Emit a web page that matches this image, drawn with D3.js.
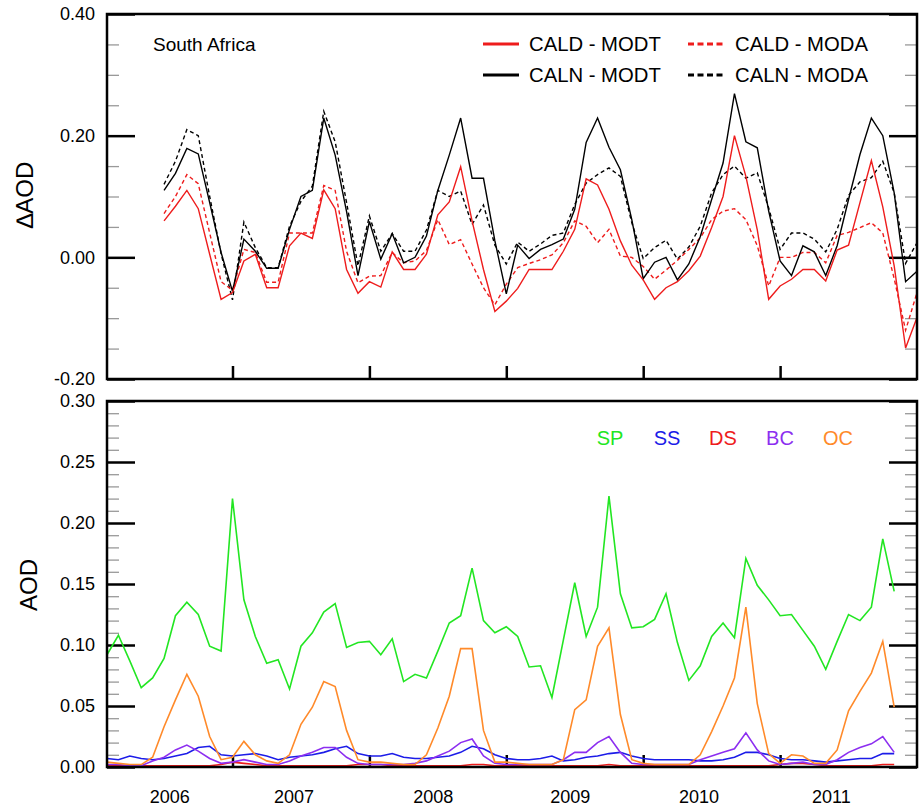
<!DOCTYPE html>
<html><head><meta charset="utf-8">
<script src="https://cdn.jsdelivr.net/npm/d3@7"></script>
<style>
body{margin:0;background:#fff}
svg{display:block}
text{font-family:"Liberation Sans",Arial,Helvetica,sans-serif;fill:#000}
</style>
</head><body>
<svg id="chart" width="923" height="807"></svg>
<script>
// ---------- DATA ----------
// month index 0 = first month of 2006 ; panel x axis spans months 0..71
const years = ["2006","2007","2008","2009","2010","2011"];
const yearLabelAt = [5.5, 16.4, 28.6, 40.6, 51.9, 63.5];   // month positions of year labels
const yearTicks = [11, 23, 35, 47, 59];

const N = null;
// top panel (ΔAOD), months 0..71 (no data before month 5)
const caldModt = [N,N,N,N,N,
 0.060,0.084,0.110,0.080,0.005,-0.069,-0.058,-0.006,0.005,-0.050,-0.050,0.019,0.040,0.031,0.111,0.080,
 -0.020,-0.059,-0.040,-0.049,0.009,-0.020,-0.020,0.005,0.070,0.091,0.149,0.060,-0.020,-0.089,-0.072,
 -0.051,-0.020,-0.020,-0.020,0.010,0.046,0.129,0.119,0.079,0.027,-0.013,-0.037,-0.069,-0.050,-0.040,
 -0.022,0.002,0.049,0.100,0.200,0.133,0.045,-0.069,-0.047,-0.036,-0.020,-0.020,-0.039,0.012,0.020,
 0.090,0.159,0.083,-0.014,-0.149,-0.099];
const calnModt = [N,N,N,N,N,
 0.110,0.138,0.179,0.170,0.090,0.008,-0.056,0.030,0.010,-0.018,-0.018,0.046,0.100,0.110,0.229,0.168,
 0.075,-0.030,0.059,-0.003,0.039,-0.009,0.000,0.035,0.110,0.168,0.229,0.130,0.130,0.027,-0.060,
 0.020,-0.002,0.013,0.021,0.030,0.079,0.189,0.229,0.181,0.144,0.062,-0.035,-0.008,0.000,-0.037,
 -0.011,0.034,0.095,0.155,0.269,0.190,0.180,0.076,-0.006,-0.030,0.019,0.009,-0.030,0.019,0.095,
 0.169,0.229,0.200,0.106,-0.040,-0.023];
const caldModa = [N,N,N,N,N,
 0.072,0.100,0.136,0.121,0.040,-0.040,-0.054,0.013,0.008,-0.041,-0.041,0.040,0.040,0.040,0.118,0.110,
 0.010,-0.042,-0.031,-0.030,0.008,-0.009,-0.006,0.011,0.062,0.021,0.029,-0.011,-0.050,-0.078,-0.044,
 -0.017,-0.010,-0.004,0.004,0.024,0.060,0.051,0.024,0.046,0.002,0.000,-0.015,-0.036,-0.021,-0.005,
 0.013,0.032,0.062,0.076,0.080,0.062,0.019,-0.047,0.000,0.000,0.008,0.008,-0.009,0.036,0.041,
 0.049,0.057,0.040,-0.035,-0.120,-0.058];
const calnModa = [N,N,N,N,N,
 0.120,0.158,0.210,0.200,0.100,0.006,-0.070,0.058,0.016,-0.017,-0.017,0.051,0.092,0.117,0.240,0.190,
 0.090,-0.014,0.068,0.010,0.039,0.010,0.010,0.045,0.110,0.100,0.109,0.054,0.086,0.020,-0.011,
 0.025,0.010,0.022,0.036,0.040,0.087,0.122,0.136,0.147,0.133,0.057,-0.002,0.016,0.028,-0.003,
 0.017,0.051,0.106,0.136,0.150,0.130,0.139,0.081,0.013,0.040,0.040,0.030,0.009,0.046,0.102,
 0.124,0.131,0.158,0.106,-0.010,0.024];

// bottom panel (AOD), months 0..69
const sp = [0.092,0.108,0.087,0.065,0.073,0.089,0.124,0.135,0.125,0.099,0.095,0.220,0.137,0.107,0.085,
 0.088,0.064,0.099,0.110,0.127,0.134,0.098,0.102,0.103,0.092,0.105,0.070,0.076,0.073,0.095,0.118,
 0.124,0.163,0.120,0.110,0.115,0.107,0.082,0.083,0.057,0.104,0.151,0.107,0.131,0.222,0.142,0.114,
 0.115,0.121,0.142,0.102,0.071,0.083,0.107,0.118,0.106,0.171,0.149,0.137,0.124,0.125,0.112,0.099,
 0.080,0.103,0.125,0.120,0.131,0.187,0.144];
const ss = [0.007,0.006,0.009,0.007,0.006,0.007,0.009,0.011,0.016,0.017,0.010,0.009,0.010,0.011,0.009,
 0.006,0.008,0.009,0.010,0.012,0.015,0.017,0.011,0.009,0.009,0.011,0.008,0.007,0.007,0.008,0.009,
 0.012,0.017,0.015,0.010,0.007,0.006,0.006,0.007,0.009,0.005,0.006,0.008,0.009,0.011,0.012,0.009,
 0.007,0.006,0.006,0.006,0.006,0.005,0.005,0.006,0.008,0.012,0.012,0.010,0.007,0.006,0.006,0.005,
 0.004,0.005,0.006,0.007,0.007,0.011,0.011];
const ds = [0.001,0.001,0.001,0.001,0.001,0.001,0.001,0.001,0.001,0.001,0.002,0.004,0.003,0.002,0.001,
 0.001,0.001,0.001,0.001,0.001,0.001,0.001,0.002,0.002,0.002,0.001,0.001,0.001,0.001,0.001,0.001,
 0.001,0.002,0.002,0.001,0.001,0.001,0.001,0.001,0.001,0.001,0.001,0.001,0.001,0.002,0.001,0.001,
 0.001,0.001,0.001,0.001,0.001,0.001,0.001,0.001,0.001,0.001,0.001,0.001,0.002,0.003,0.003,0.002,
 0.001,0.001,0.001,0.001,0.001,0.002,0.002];
const bc = [0.002,0.002,0.001,0.001,0.005,0.008,0.014,0.018,0.013,0.007,0.003,0.004,0.006,0.004,0.002,
 0.002,0.005,0.009,0.012,0.016,0.016,0.008,0.003,0.002,0.002,0.002,0.002,0.003,0.005,0.009,0.013,
 0.020,0.023,0.009,0.003,0.002,0.002,0.002,0.002,0.002,0.006,0.012,0.012,0.020,0.025,0.012,0.003,
 0.002,0.002,0.002,0.002,0.002,0.006,0.009,0.012,0.015,0.028,0.014,0.005,0.002,0.003,0.004,0.002,
 0.002,0.006,0.012,0.016,0.019,0.025,0.012];
const oc = [0.004,0.003,0.002,0.002,0.008,0.033,0.055,0.076,0.058,0.025,0.006,0.008,0.021,0.010,0.005,
 0.003,0.010,0.035,0.049,0.070,0.066,0.030,0.006,0.004,0.004,0.003,0.002,0.002,0.010,0.032,0.058,
 0.097,0.097,0.030,0.004,0.004,0.003,0.002,0.002,0.002,0.006,0.047,0.055,0.099,0.114,0.043,0.006,
 0.003,0.002,0.002,0.002,0.002,0.010,0.029,0.050,0.073,0.131,0.052,0.011,0.003,0.010,0.009,0.003,
 0.003,0.014,0.046,0.062,0.077,0.103,0.049];

const topTicks = [-0.2, 0, 0.2, 0.4];
const topMinor = [-0.15,-0.10,-0.05,0.05,0.10,0.15,0.25,0.30,0.35];
const botTicks = [0, 0.05, 0.10, 0.15, 0.20, 0.25, 0.30];
const botMinor = d3.range(1,30).filter(i => i % 5 !== 0).map(i => i/100);

// ---------- STYLE ----------
const RED = "#ee1c1c", BLACK = "#000";
const C = {SP:"#22e622", SS:"#1c1ce8", DS:"#ee1c1c", BC:"#8c2ef0", OC:"#ff8a2a"};

const svg = d3.select("#chart");
const L = 107, R = 917;
const x = d3.scaleLinear().domain([0, 71]).range([L, R]);
const yT = d3.scaleLinear().domain([-0.2, 0.4]).range([379, 14]);
const yB = d3.scaleLinear().domain([0, 0.30]).range([767, 401]);
const fmt = d => d.toFixed(2);

function yAxes(y, major, minor) {
  // left minor
  svg.append("g").attr("transform", `translate(${L},0)`)
    .call(d3.axisLeft(y).tickValues(minor).tickSize(-12).tickFormat(""))
    .call(g => { g.select(".domain").remove(); g.selectAll("line").attr("stroke","#999").attr("stroke-width",1.3); });
  // right minor
  svg.append("g").attr("transform", `translate(${R},0)`)
    .call(d3.axisRight(y).tickValues(minor).tickSize(-12).tickFormat(""))
    .call(g => { g.select(".domain").remove(); g.selectAll("line").attr("stroke","#999").attr("stroke-width",1.3); });
  // left major with labels
  svg.append("g").attr("transform", `translate(${L},0)`)
    .call(d3.axisLeft(y).tickValues(major).tickSize(-28).tickPadding(12).tickFormat(fmt))
    .call(g => { g.select(".domain").remove();
      g.selectAll("line").attr("stroke","#000").attr("stroke-width",2.5);
      g.selectAll("text").attr("font-size",18).attr("font-family","Liberation Sans, Arial, sans-serif").attr("fill","#000"); });
  // right major
  svg.append("g").attr("transform", `translate(${R},0)`)
    .call(d3.axisRight(y).tickValues(major).tickSize(-28).tickFormat(""))
    .call(g => { g.select(".domain").remove(); g.selectAll("line").attr("stroke","#000").attr("stroke-width",2.5); });
}
function xTicks(yPos, len) {
  svg.append("g").attr("transform", `translate(0,${yPos})`)
    .call(d3.axisBottom(x).tickValues(yearTicks).tickSize(-len).tickFormat(""))
    .call(g => { g.select(".domain").remove(); g.selectAll("line").attr("stroke","#000").attr("stroke-width",2.5); });
}

// ---------- TOP PANEL ----------
yAxes(yT, topTicks, topMinor);
xTicks(379, 13);
const lineT = d3.line().defined(d => d != null).x((d,i) => x(i)).y(d => yT(d));
const topSeries = [
  {data: calnModa, color: BLACK, dash: "4,3"},
  {data: caldModa, color: RED, dash: "4,3"},
  {data: calnModt, color: BLACK, dash: null},
  {data: caldModt, color: RED, dash: null}
];
topSeries.forEach(s => {
  svg.append("path").datum(s.data).attr("d", lineT)
    .attr("fill","none").attr("stroke", s.color).attr("stroke-width",1.4)
    .attr("stroke-dasharray", s.dash).attr("stroke-linejoin","miter");
});
svg.append("rect").attr("x",L).attr("y",14).attr("width",R-L).attr("height",379-14)
  .attr("fill","none").attr("stroke","#000").attr("stroke-width",2.5);

svg.append("text").attr("x",153).attr("y",51).attr("font-size",19).text("South Africa");
const legendTop = [
  {label:"CALD - MODT", color:RED, dash:null, lx:483, tx:529, y:44},
  {label:"CALN - MODT", color:BLACK, dash:null, lx:483, tx:529, y:75},
  {label:"CALD - MODA", color:RED, dash:"6,3.5", lx:688, tx:735, y:44},
  {label:"CALN - MODA", color:BLACK, dash:"6,3.5", lx:688, tx:735, y:75}
];
legendTop.forEach(d => {
  svg.append("line").attr("x1",d.lx).attr("x2",d.lx+36).attr("y1",d.y).attr("y2",d.y)
    .attr("stroke",d.color).attr("stroke-width",3).attr("stroke-dasharray",d.dash);
  svg.append("text").attr("x",d.tx).attr("y",d.y+7.2).attr("font-size",20.3).text(d.label);
});
svg.append("text").attr("transform","translate(33,195) rotate(-90)")
  .attr("text-anchor","middle").attr("font-size",24).text("\u2206AOD");

// ---------- BOTTOM PANEL ----------
yAxes(yB, botTicks, botMinor);
xTicks(767, 12);
const lineB = d3.line().x((d,i) => x(i)).y(d => yB(d));
const botSeries = [
  {name:"DS", data: ds}, {name:"SS", data: ss}, {name:"BC", data: bc},
  {name:"OC", data: oc}, {name:"SP", data: sp}
];
botSeries.forEach(s => {
  svg.append("path").datum(s.data).attr("d", lineB)
    .attr("fill","none").attr("stroke", C[s.name]).attr("stroke-width",1.6);
});
svg.append("rect").attr("x",L).attr("y",401).attr("width",R-L).attr("height",767-401)
  .attr("fill","none").attr("stroke","#000").attr("stroke-width",2.5);

const legendBot = [["SP",610],["SS",667],["DS",723],["BC",780],["OC",838]];
legendBot.forEach(([n,cx]) => {
  svg.append("text").attr("x",cx).attr("y",445).attr("text-anchor","middle")
    .attr("font-size",20).style("fill",C[n]).text(n);
});
svg.append("text").attr("transform","translate(37,585) rotate(-90)")
  .attr("text-anchor","middle").attr("font-size",24).text("AOD");

years.forEach((yr,i) => {
  svg.append("text").attr("x", x(yearLabelAt[i])).attr("y",803)
    .attr("text-anchor","middle").attr("font-size",18).text(yr);
});
</script>
</body></html>
